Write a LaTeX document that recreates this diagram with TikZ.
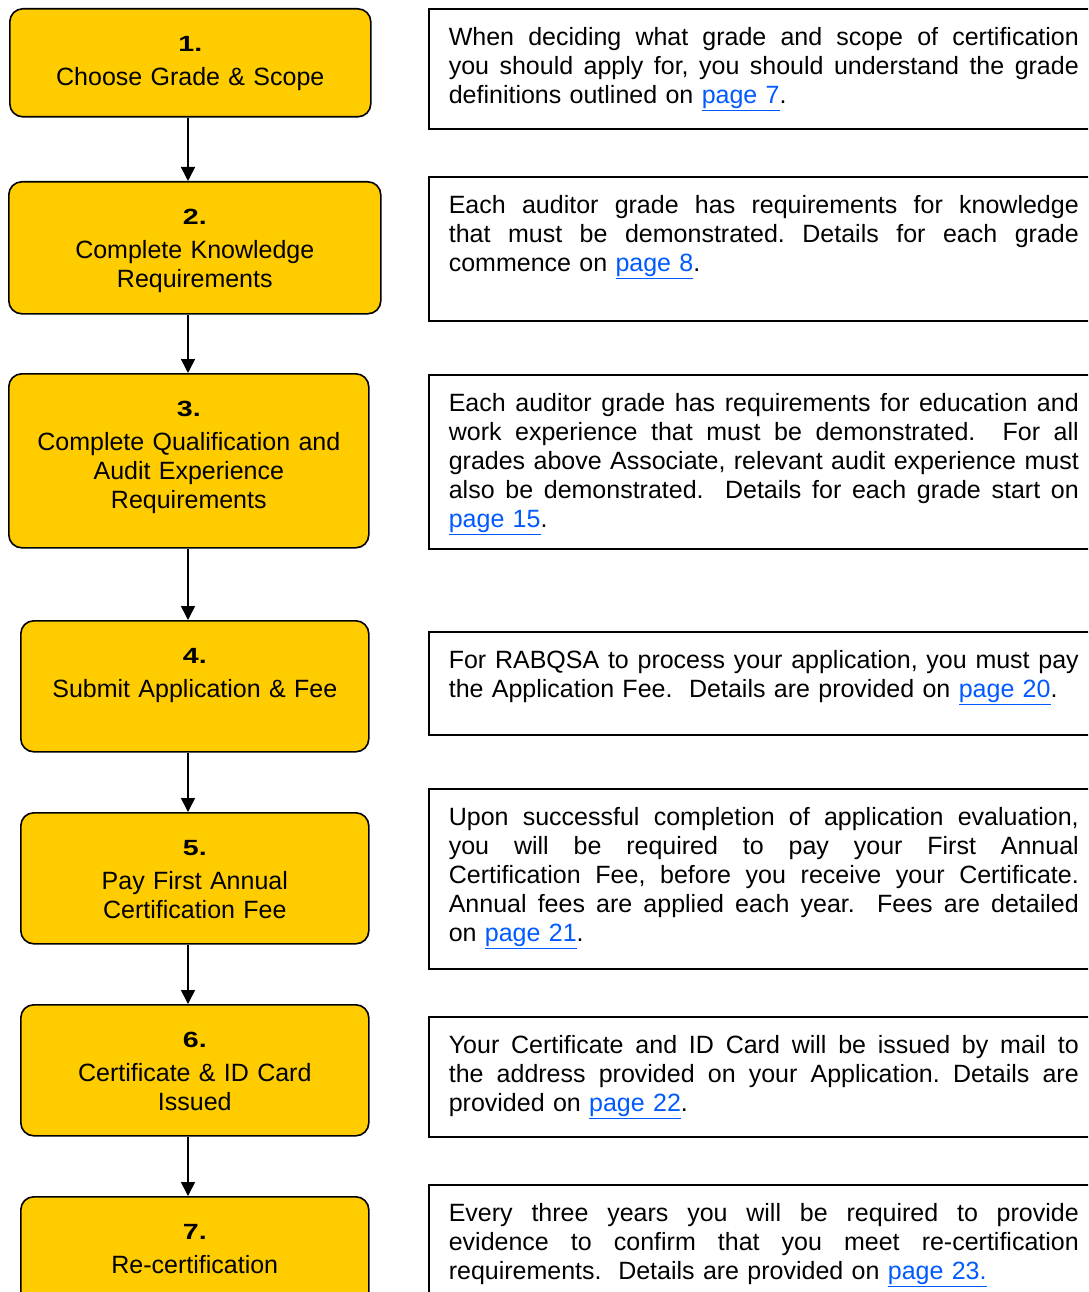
\documentclass[tikz,border=0pt]{standalone}
\usepackage{fontspec}
\setmainfont{Liberation Sans}
\usepackage{graphicx}
\usetikzlibrary{arrows.meta}
\definecolor{stepyellow}{HTML}{FFCC00}
\definecolor{linkblue}{RGB}{0,90,255}
\newcommand\stepnum[1]{\scalebox{1.3}[1]{\fontsize{22}{29}\selectfont\bfseries #1}}
\newcommand\lnk[1]{{\color{linkblue}\underline{#1}}}
\newcommand\jl[1]{\leavevmode\hbox to 630pt{\frenchspacing\spaceskip=0.278em plus 1fil minus 0.1em\relax #1}}
\tikzset{
  stepbox/.style={draw=black, line width=1.6pt, fill=stepyellow, rounded corners=13pt,
    inner xsep=0pt, inner ysep=0pt, align=center, anchor=north west,
    font=\fontsize{25}{29}\selectfont, text height=43pt},
  infobox/.style={draw=black, line width=1.6pt, inner xsep=20pt, inner ysep=0pt,
    text width=630pt, align=left, anchor=north west,
    font=\fontsize{25}{29}\selectfont, text height=37pt},
  flow/.style={-{Triangle[width=14pt,length=14pt]}, line width=1.6pt},
}
\begin{document}
\begin{tikzpicture}[x=1pt,y=-1pt]
\useasboundingbox (0,0) rectangle (1088,1292);
\clip (0,0) rectangle (1088,1292);
\fill[white] (0,0) rectangle (1088,1292);
\coordinate (ax) at (188,0);
% left step boxes
\node[stepbox, text width=361pt, text depth=65pt] (s1) at (9,8)
  {\stepnum{1.}\\[5pt]Choose Grade \& Scope};
\node[stepbox, text width=372pt, text depth=89pt] (s2) at (8,181)
  {\stepnum{2.}\\[5pt]Complete Knowledge\\Requirements};
\node[stepbox, text width=360pt, text depth=131pt] (s3) at (8,373)
  {\stepnum{3.}\\[5pt]Complete Qualification and\\Audit Experience\\Requirements};
\node[stepbox, text width=348pt, text depth=88pt] (s4) at (20,620)
  {\stepnum{4.}\\[5pt]Submit Application \& Fee};
\node[stepbox, text width=348pt, text depth=88pt] (s5) at (20,812)
  {\stepnum{5.}\\[5pt]Pay First Annual\\Certification Fee};
\node[stepbox, text width=348pt, text depth=88pt] (s6) at (20,1004)
  {\stepnum{6.}\\[5pt]Certificate \& ID Card\\Issued};
\node[stepbox, text width=348pt, text depth=88pt] (s7) at (20,1196)
  {\stepnum{7.}\\[5pt]Re-certification};
% connectors
\draw[flow] (s1.south -| ax) -- (s2.north -| ax);
\draw[flow] (s2.south -| ax) -- (s3.north -| ax);
\draw[flow] (s3.south -| ax) -- (s4.north -| ax);
\draw[flow] (s4.south -| ax) -- (s5.north -| ax);
\draw[flow] (s5.south -| ax) -- (s6.north -| ax);
\draw[flow] (s6.south -| ax) -- (s7.north -| ax);
% right info boxes
\node[infobox, text depth=83pt] (i1) at (428,8) {%
\jl{When deciding what grade and scope of certification}\\
\jl{you should apply for, you should understand the grade}\\
definitions outlined on \lnk{page 7}.};
\node[infobox, text depth=107pt] (i2) at (428,176) {%
\jl{Each auditor grade has requirements for knowledge}\\
\jl{that must be demonstrated. Details for each grade}\\
commence on \lnk{page 8}.};
\node[infobox, text depth=137pt] (i3) at (428,374) {%
\jl{Each auditor grade has requirements for education and}\\
\jl{work experience that must be demonstrated.\ \ For all}\\
\jl{grades above Associate, relevant audit experience must}\\
\jl{also be demonstrated.\ \ Details for each grade start on}\\
\lnk{page 15}.};
\node[infobox, text depth=66pt] (i4) at (428,631) {%
\jl{For RABQSA to process your application, you must pay}\\
the Application Fee.\ \ Details are provided on \lnk{page 20}.};
\node[infobox, text depth=143pt] (i5) at (428,788) {%
\jl{Upon successful completion of application evaluation,}\\
\jl{you will be required to pay your First Annual}\\
\jl{Certification Fee, before you receive your Certificate.}\\
\jl{Annual fees are applied each year.\ \ Fees are detailed}\\
on \lnk{page 21}.};
\node[infobox, text depth=83pt] (i6) at (428,1016) {%
\jl{Your Certificate and ID Card will be issued by mail to}\\
\jl{the address provided on your Application. Details are}\\
provided on \lnk{page 22}.};
\node[infobox, text depth=103pt] (i7) at (428,1184) {%
\jl{Every three years you will be required to provide}\\
\jl{evidence to confirm that you meet re-certification}\\
requirements.\ \ Details are provided on \lnk{page 23.}};
\end{tikzpicture}
\end{document}
